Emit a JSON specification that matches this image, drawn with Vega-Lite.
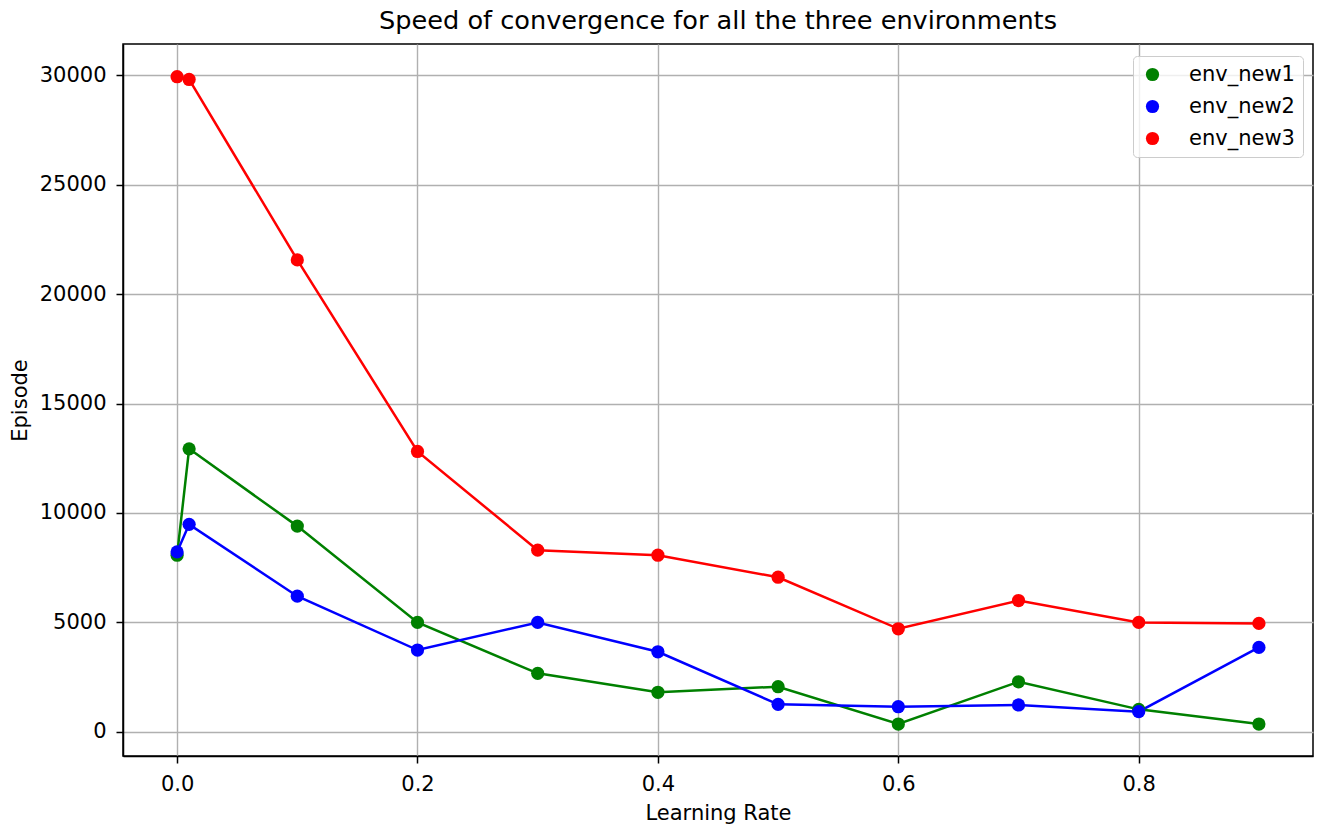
{
  "$schema": "https://vega.github.io/schema/vega-lite/v6.json",
  "width": 1190,
  "height": 712,
  "autosize": {"type": "none"},
  "padding": {"left": 123, "top": 44, "right": 4, "bottom": 69},
  "background": "white",
  "title": {
    "text": "Speed of convergence for all the three environments",
    "fontSize": 25.6,
    "fontWeight": "normal",
    "font": "DejaVu Sans",
    "color": "black",
    "anchor": "middle",
    "offset": 9
  },
  "config": {
    "font": "DejaVu Sans",
    "view": {"stroke": "black", "strokeWidth": 1.5},
    "axis": {
      "domainColor": "black",
      "domainWidth": 1.5,
      "gridColor": "#b0b0b0",
      "gridWidth": 1.4,
      "tickColor": "black",
      "tickSize": 7,
      "tickWidth": 1.5,
      "labelFontSize": 21,
      "labelColor": "black",
      "titleFontSize": 21,
      "titleFontWeight": "normal",
      "titleColor": "black",
      "labelPadding": 10
    }
  },
  "data": {
    "values": [
      {"lr": 0.0, "episode": 8070, "env": "env_new1"},
      {"lr": 0.01, "episode": 12930, "env": "env_new1"},
      {"lr": 0.1, "episode": 9400, "env": "env_new1"},
      {"lr": 0.2, "episode": 5000, "env": "env_new1"},
      {"lr": 0.3, "episode": 2675, "env": "env_new1"},
      {"lr": 0.4, "episode": 1810, "env": "env_new1"},
      {"lr": 0.5, "episode": 2065, "env": "env_new1"},
      {"lr": 0.6, "episode": 360, "env": "env_new1"},
      {"lr": 0.7, "episode": 2290, "env": "env_new1"},
      {"lr": 0.8, "episode": 1030, "env": "env_new1"},
      {"lr": 0.9, "episode": 360, "env": "env_new1"},
      {"lr": 0.0, "episode": 8220, "env": "env_new2"},
      {"lr": 0.01, "episode": 9480, "env": "env_new2"},
      {"lr": 0.1, "episode": 6200, "env": "env_new2"},
      {"lr": 0.2, "episode": 3740, "env": "env_new2"},
      {"lr": 0.3, "episode": 5000, "env": "env_new2"},
      {"lr": 0.4, "episode": 3660, "env": "env_new2"},
      {"lr": 0.5, "episode": 1260, "env": "env_new2"},
      {"lr": 0.6, "episode": 1150, "env": "env_new2"},
      {"lr": 0.7, "episode": 1230, "env": "env_new2"},
      {"lr": 0.8, "episode": 925, "env": "env_new2"},
      {"lr": 0.9, "episode": 3860, "env": "env_new2"},
      {"lr": 0.0, "episode": 29925, "env": "env_new3"},
      {"lr": 0.01, "episode": 29800, "env": "env_new3"},
      {"lr": 0.1, "episode": 21560, "env": "env_new3"},
      {"lr": 0.2, "episode": 12810, "env": "env_new3"},
      {"lr": 0.3, "episode": 8300, "env": "env_new3"},
      {"lr": 0.4, "episode": 8070, "env": "env_new3"},
      {"lr": 0.5, "episode": 7065, "env": "env_new3"},
      {"lr": 0.6, "episode": 4710, "env": "env_new3"},
      {"lr": 0.7, "episode": 6000, "env": "env_new3"},
      {"lr": 0.8, "episode": 5000, "env": "env_new3"},
      {"lr": 0.9, "episode": 4955, "env": "env_new3"}
    ]
  },
  "encoding": {
    "x": {
      "field": "lr",
      "type": "quantitative",
      "title": "Learning Rate",
      "scale": {"domain": [-0.045, 0.945], "nice": false, "zero": false},
      "axis": {"values": [0, 0.2, 0.4, 0.6, 0.8], "format": ".1f", "titlePadding": 8}
    },
    "y": {
      "field": "episode",
      "type": "quantitative",
      "title": "Episode",
      "scale": {"domain": [-1100, 31420], "nice": false, "zero": false},
      "axis": {"values": [0, 5000, 10000, 15000, 20000, 25000, 30000], "format": "d", "titlePadding": 9}
    }
  },
  "resolve": {"legend": {"color": "independent"}},
  "layer": [
    {
      "mark": {"type": "line", "strokeWidth": 2.5},
      "encoding": {
        "color": {
          "field": "env",
          "type": "nominal",
          "scale": {"domain": ["env_new1", "env_new2", "env_new3"], "range": ["green", "blue", "red"]},
          "legend": null
        },
        "detail": {"field": "env"}
      }
    },
    {
      "mark": {"type": "point", "filled": true, "size": 175, "opacity": 1},
      "encoding": {
        "color": {
          "field": "env",
          "type": "nominal",
          "scale": {"domain": ["env_new1", "env_new2", "env_new3"], "range": ["green", "blue", "red"]},
          "legend": {
            "title": null,
            "orient": "none",
            "legendX": 1010,
            "legendY": 12,
            "padding": 8,
            "symbolOffset": 1,
            "symbolType": "circle",
            "symbolSize": 175,
            "symbolOpacity": 1,
            "symbolStrokeWidth": 0,
            "labelFontSize": 21,
            "labelColor": "black",
            "labelOffset": 26,
            "rowPadding": 10,
            "strokeColor": "#cccccc",
            "fillColor": "rgba(255,255,255,0.8)",
            "cornerRadius": 4
          }
        }
      }
    }
  ]
}
